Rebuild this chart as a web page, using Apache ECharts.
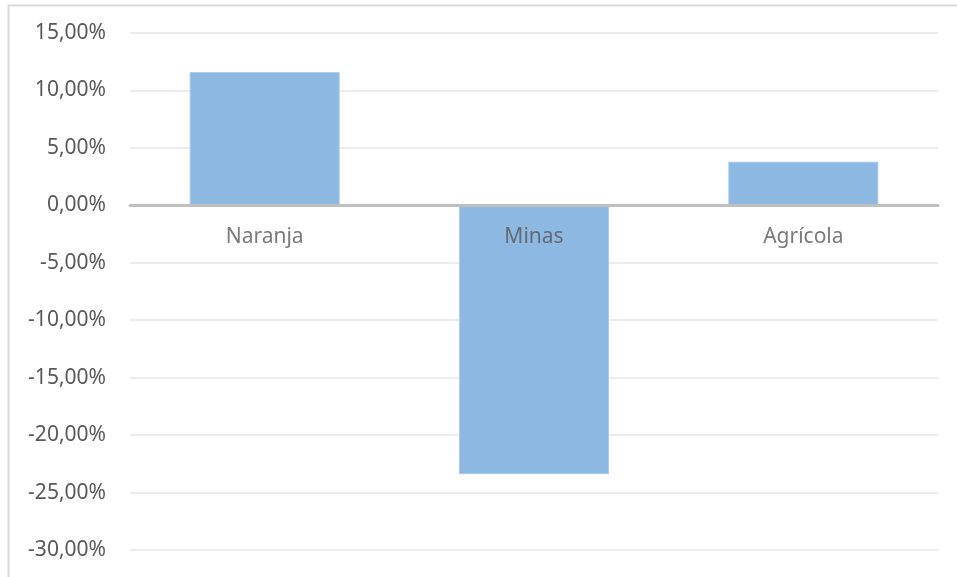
<!DOCTYPE html>
<html>
<head>
<meta charset="utf-8">
<script src="https://cdn.jsdelivr.net/npm/echarts@6/dist/echarts.min.js"></script>
<style>
html,body{margin:0;padding:0;background:#fff;}
#chart{width:957px;height:577px;}
</style>
</head>
<body>
<div id="chart"></div>
<script>
const categories = ['Naranja', 'Minas', 'Agrícola'];
const values = [11.6, -23.4, 3.8];
const yMin = -30, yMax = 15, yStep = 5;

const chart = echarts.init(document.getElementById('chart'), null, {renderer: 'canvas'});
const font = 'Noto Sans';
chart.setOption({
  animation: false,
  backgroundColor: '#ffffff',
  graphic: [{
    type: 'rect',
    left: 6, top: 3,
    shape: {width: 1200, height: 800},
    style: {fill: 'none', stroke: '#d9d9d9', lineWidth: 2},
    z: -1
  }],
  grid: {left: 130, right: 19, top: 33, bottom: 27, containLabel: false, outerBoundsMode: 'none'},
  xAxis: {
    type: 'category',
    data: categories,
    z: 10,
    axisLine: {onZero: true, lineStyle: {color: '#bfbfbf', width: 3}},
    axisTick: {show: false},
    axisLabel: {show: false},
    splitLine: {show: false}
  },
  yAxis: {
    type: 'value',
    min: yMin, max: yMax, interval: yStep,
    axisLine: {show: false},
    axisTick: {show: false},
    axisLabel: {
      color: '#595959', fontFamily: font, fontSize: 21, margin: 24,
      formatter: v => v.toFixed(2).replace('.', ',') + '%'
    },
    splitLine: {lineStyle: {color: '#ececec', width: 2}}
  },
  series: [{
    type: 'bar',
    data: values,
    barWidth: '55.7%',
    itemStyle: {color: '#8db8e2', borderColor: '#a9cbec', borderWidth: 1}
  }, {
    type: 'scatter',
    data: categories.map(c => [c, 0]),
    symbolSize: 0,
    z: 20,
    silent: true,
    label: {
      show: true,
      position: 'bottom',
      distance: 21,
      color: '#595959',
      fontFamily: font,
      fontSize: 21,
      formatter: p => p.value[0]
    }
  }]
});
</script>
</body>
</html>
